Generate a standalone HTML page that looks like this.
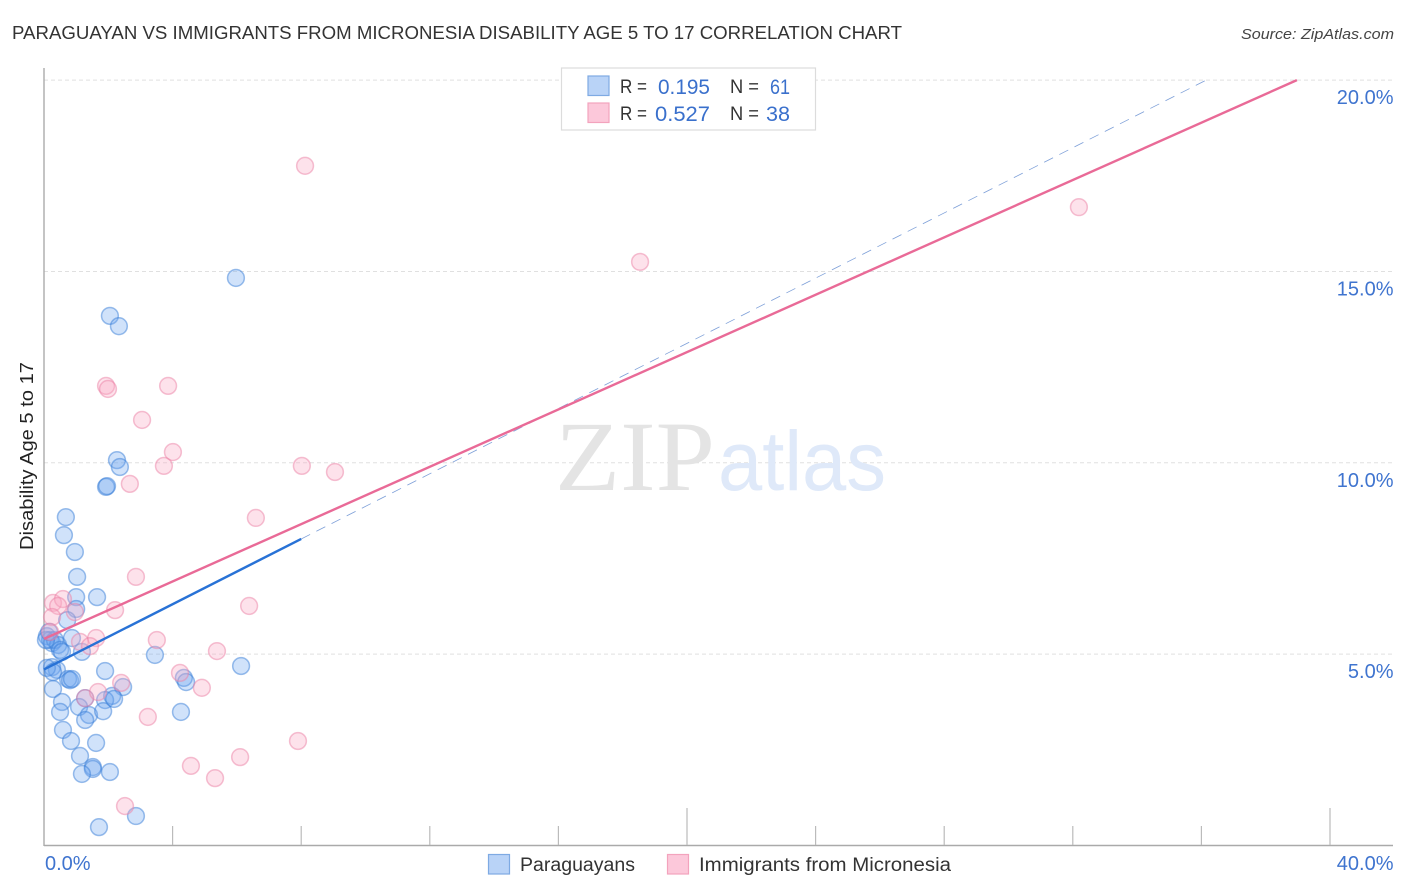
<!DOCTYPE html>
<html>
<head>
<meta charset="utf-8">
<title>Paraguayan vs Immigrants from Micronesia Disability Age 5 to 17</title>
<style>
html,body{margin:0;padding:0;background:#fff;width:1406px;height:892px;overflow:hidden}
svg{display:block}
text{font-family:"Liberation Sans",sans-serif}
</style>
</head>
<body>
<svg id="chart" width="1406" height="892" viewBox="0 0 1406 892" xmlns="http://www.w3.org/2000/svg">
  <text x="12" y="39" font-size="18" fill="#333" textLength="890" lengthAdjust="spacingAndGlyphs">PARAGUAYAN VS IMMIGRANTS FROM MICRONESIA DISABILITY AGE 5 TO 17 CORRELATION CHART</text>
  <text x="1241" y="39" font-size="15" font-style="italic" fill="#444" textLength="153" lengthAdjust="spacingAndGlyphs">Source: ZipAtlas.com</text>
  <g id="grid"></g>
  <g>
    <text x="555" y="490" font-size="100" fill="#e4e4e4" style="font-family:'Liberation Serif',serif" textLength="160" lengthAdjust="spacingAndGlyphs">ZIP</text>
    <text x="718" y="490" font-size="84" fill="#dfe9f9" textLength="168" lengthAdjust="spacingAndGlyphs">atlas</text>
  </g>
  <g id="axes"></g>
  <g id="points-blue"></g>
  <g id="points-pink"></g>
  <g id="trends"></g>
  <text transform="translate(33,456) rotate(-90)" text-anchor="middle" font-size="18" fill="#222" textLength="188" lengthAdjust="spacingAndGlyphs">Disability Age 5 to 17</text>
  <g id="tick-labels"></g>

  <g>
    <rect x="561.5" y="68" width="254" height="62" fill="#fff" stroke="#dcdcdc" stroke-width="1.2"/>
    <rect x="588" y="76" width="21" height="19.5" fill="#b9d3f7" stroke="#7eaae3" stroke-width="1.2"/>
    <rect x="588" y="103" width="21" height="19.5" fill="#fcc8da" stroke="#f3a3bd" stroke-width="1.2"/>
    <text x="620" y="93" font-size="19.5" fill="#333" textLength="27" lengthAdjust="spacingAndGlyphs">R =</text>
    <text x="658" y="94" font-size="21" fill="#3a70cc" textLength="52" lengthAdjust="spacingAndGlyphs">0.195</text>
    <text x="730" y="93" font-size="19.5" fill="#333" textLength="29" lengthAdjust="spacingAndGlyphs">N =</text>
    <text x="770" y="94" font-size="21" fill="#3a70cc" textLength="20" lengthAdjust="spacingAndGlyphs">61</text>
    <text x="620" y="120" font-size="19.5" fill="#333" textLength="27" lengthAdjust="spacingAndGlyphs">R =</text>
    <text x="655" y="121" font-size="21" fill="#3a70cc" textLength="55" lengthAdjust="spacingAndGlyphs">0.527</text>
    <text x="730" y="120" font-size="19.5" fill="#333" textLength="29" lengthAdjust="spacingAndGlyphs">N =</text>
    <text x="766" y="121" font-size="21" fill="#3a70cc" textLength="24" lengthAdjust="spacingAndGlyphs">38</text>
  </g>

  <g>
    <rect x="488.5" y="854.5" width="21" height="19.5" fill="#b9d3f7" stroke="#7eaae3" stroke-width="1.2"/>
    <text x="520" y="871" font-size="19" fill="#333" textLength="115" lengthAdjust="spacingAndGlyphs">Paraguayans</text>
    <rect x="667.5" y="854.5" width="21" height="19.5" fill="#fcc8da" stroke="#f3a3bd" stroke-width="1.2"/>
    <text x="699" y="871" font-size="19" fill="#333" textLength="252" lengthAdjust="spacingAndGlyphs">Immigrants from Micronesia</text>
  </g>
</svg>
<script>
// ---- chart data (percent units) ----
const blueX = [5.97,2.05,2.33,2.27,2.36,1.93,1.96,0.68,0.62,0.96,1.03,1.00,1.65,1.00,0.72,
  0.09,0.19,0.25,0.34,0.44,0.50,0.56,0.87,1.18,
  3.45,6.13,1.90,0.25,0.40,0.09,0.28,
  0.75,0.81,0.87,4.35,4.42,
  0.28,2.46,2.12,1.28,1.90,2.18,
  0.56,0.50,1.09,1.40,1.84,4.26,
  1.28,0.59,0.84,1.62,1.12,
  1.52,1.52,2.05,1.18,2.86,1.71,0.06,0.16];
const blueY = [14.83,13.84,13.57,10.07,9.89,9.37,9.39,8.58,8.11,7.67,7.02,6.49,6.49,6.18,5.89,
  5.47,5.37,5.29,5.37,5.24,5.11,5.06,5.42,5.06,
  4.98,4.69,4.56,4.66,4.59,4.64,4.53,
  4.35,4.32,4.35,4.38,4.27,
  4.09,4.14,3.91,3.85,3.80,3.83,
  3.75,3.49,3.62,3.41,3.51,3.49,
  3.28,3.02,2.73,2.68,2.34,
  2.05,2.00,1.92,1.87,0.77,0.48,5.37,5.58];
const pinkX = [8.12,32.19,18.54,1.93,1.99,3.86,3.05,4.01,3.73,8.02,9.05,2.67,6.59,2.86,6.38,2.21,
  0.28,0.59,0.44,0.96,0.25,
  1.62,1.12,1.43,3.51,5.38,
  4.23,4.91,2.40,1.28,1.68,3.23,7.90,6.10,4.57,5.32,2.52,0.19];
const pinkY = [17.76,16.68,15.25,12.01,11.93,12.01,11.12,10.28,9.92,9.92,9.76,9.45,8.56,7.02,6.26,6.15,
  6.34,6.44,6.26,6.10,5.97,
  5.42,5.32,5.21,5.37,5.08,
  4.51,4.12,4.25,3.85,4.01,3.36,2.73,2.31,2.08,1.76,1.03,5.58];
const blueTrendX = [0, 8];
const blueTrendY = [4.6, 8.01];
const blueProjectionX = [8, 36.15];
const blueProjectionY = [8.01, 20];
const pinkTrendX = [0, 38.97];
const pinkTrendY = [5.4, 20];
const yTicks = [5, 10, 15, 20];
const yTickLabels = ["5.0%", "10.0%", "15.0%", "20.0%"];
const xTicks = [4, 8, 12, 16, 20, 24, 28, 32, 36, 40];
const xMajorTicks = [20, 40];
const xEndTicks = [0, 40];
const xEndLabels = ["0.0%", "40.0%"];

// ---- axis functions ----
function sx(v){ return 44 + v * 32.15; }
function sy(v){ return 845.5 - v * 38.27; }
const NS = 'http://www.w3.org/2000/svg';
function mk(tag, parent, attrs){
  const el = document.createElementNS(NS, tag);
  for (const k in attrs) el.setAttribute(k, attrs[k]);
  parent.appendChild(el);
  return el;
}
const grid = document.getElementById('grid');
const axes = document.getElementById('axes');
const trends = document.getElementById('trends');
const tickLabels = document.getElementById('tick-labels');

yTicks.forEach(function(t){
  const ln = mk('line', grid, {x1:44, x2:1393, y1:sy(t), y2:sy(t), stroke:'#e0e0e0', 'stroke-width':1, 'stroke-dasharray':'4 3'});
  
  
});

const yAxis = mk('line', axes, {x1:44, x2:44, y1:68, y2:846, stroke:'#aaa', 'stroke-width':1.4});


const xAxis = mk('line', axes, {x1:44, x2:1393, y1:845.5, y2:845.5, stroke:'#aaa', 'stroke-width':1.4});


xTicks.forEach(function(t){
  const top = xMajorTicks.indexOf(t) >= 0 ? 808 : 826;
  const tk = mk('line', axes, {x1:sx(t), x2:sx(t), y1:top, y2:845, stroke:'#bbb', 'stroke-width':1.2});
  
  
});

yTicks.forEach(function(t, i){
  const lb = mk('text', tickLabels, {x:1393.5, y:sy(t)+24, 'text-anchor':'end', 'font-size':20, fill:'#3f74cf'});
  lb.textContent = yTickLabels[i];
  
  
});
xEndTicks.forEach(function(t, i){
  const lb = mk('text', tickLabels, {x: i === 0 ? sx(t) + 1 : 1393.5, y:870, 'text-anchor': i === 0 ? 'start' : 'end', 'font-size':20, fill:'#3f74cf'});
  lb.textContent = xEndLabels[i];
  
  
});

const blueGroup = document.getElementById('points-blue');
blueX.forEach(function(v, i){
  const c = mk('circle', blueGroup, {cx:sx(v), cy:sy(blueY[i]), r:8.4, fill:'rgba(110,165,238,0.32)', stroke:'rgba(55,125,215,0.5)', 'stroke-width':1.5});
  
  
});
const pinkGroup = document.getElementById('points-pink');
pinkX.forEach(function(v, i){
  const c = mk('circle', pinkGroup, {cx:sx(v), cy:sy(pinkY[i]), r:8.4, fill:'rgba(248,170,195,0.34)', stroke:'rgba(235,130,165,0.5)', 'stroke-width':1.5});
  
  
});

const proj = mk('line', trends, {x1:sx(blueProjectionX[0]), y1:sy(blueProjectionY[0]), x2:sx(blueProjectionX[1]), y2:sy(blueProjectionY[1]), stroke:'#7d9fd8', 'stroke-width':0.8, 'stroke-dasharray':'10 7'});


const pinkLine = mk('line', trends, {x1:sx(pinkTrendX[0]), y1:sy(pinkTrendY[0]), x2:sx(pinkTrendX[1]), y2:sy(pinkTrendY[1]), stroke:'#e96a97', 'stroke-width':2.4});


const blueLine = mk('line', trends, {x1:sx(blueTrendX[0]), y1:sy(blueTrendY[0]), x2:sx(blueTrendX[1]), y2:sy(blueTrendY[1]), stroke:'#2872d6', 'stroke-width':2.4});


</script>
</body>
</html>
